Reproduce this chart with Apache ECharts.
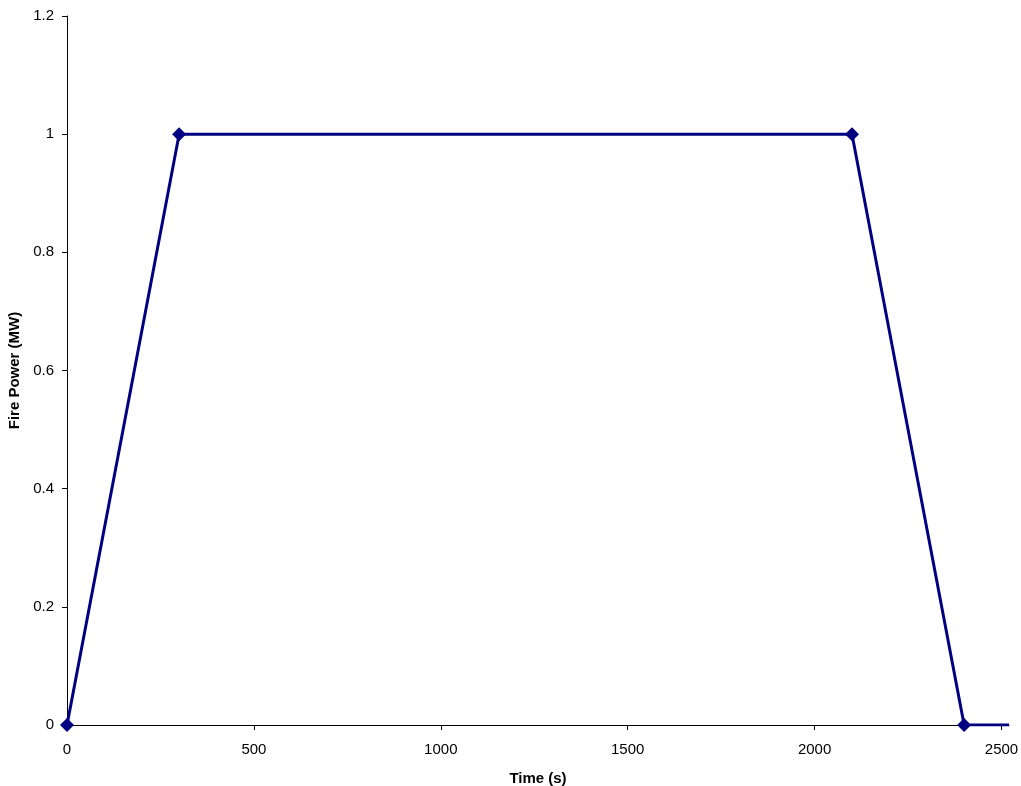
<!DOCTYPE html>
<html><head><meta charset="utf-8">
<script src="https://cdn.jsdelivr.net/npm/echarts@6/dist/echarts.min.js"></script>
<style>html,body{margin:0;padding:0;background:#fff}#c{width:1021px;height:786px}</style>
</head><body><div id="c"></div>
<script>
const times = [0, 300, 2100, 2400, 2520];
const power = [0, 1, 1, 0, 0];
const markerShown = [true, true, true, true, false];
const xTicks = [0, 500, 1000, 1500, 2000, 2500];
const yTicks = [0, 0.2, 0.4, 0.6, 0.8, 1, 1.2];

const data = times.map((t, i) => ({value: [t, power[i]], symbol: markerShown[i] ? 'diamond' : 'none'}));
const font = 'Liberation Sans, Arial, sans-serif';
const chart = echarts.init(document.getElementById('c'));
chart.setOption({
  animation: false,
  grid: {left: 67, right: 12, top: 16, bottom: 61, containLabel: false, outerBoundsMode: 'none'},
  xAxis: {
    type: 'value', min: 0, max: 2520, interval: 500,
    name: 'Time (s)', nameLocation: 'middle', nameGap: 46,
    nameTextStyle: {fontFamily: font, fontSize: 15, fontWeight: 'bold', color: '#000'},
    axisLine: {show: true, lineStyle: {color: '#000', width: 1}},
    axisTick: {show: true, inside: false, length: 5, lineStyle: {color: '#000'}},
    axisLabel: {fontFamily: font, fontSize: 15, color: '#000', margin: 17, showMaxLabel: false,
      formatter: v => xTicks.includes(v) ? String(v) : ''},
    splitLine: {show: false}
  },
  yAxis: {
    type: 'value', min: 0, max: 1.2, interval: 0.2,
    name: 'Fire Power (MW)', nameLocation: 'middle', nameGap: 44, nameRotate: 90,
    nameTextStyle: {fontFamily: font, fontSize: 15, fontWeight: 'bold', color: '#000'},
    axisLine: {show: true, lineStyle: {color: '#000', width: 1}},
    axisTick: {show: true, inside: false, length: 5, lineStyle: {color: '#000'}},
    axisLabel: {fontFamily: font, fontSize: 15, color: '#000', margin: 13,
      formatter: v => { const m = yTicks.find(t => Math.abs(t - v) < 1e-9); return m === undefined ? '' : String(m); }},
    splitLine: {show: false}
  },
  series: [{
    type: 'line', data: data, symbolSize: 14, clip: true,
    lineStyle: {color: '#000080', width: 3},
    itemStyle: {color: '#000080'}
  }]
});
</script></body></html>
